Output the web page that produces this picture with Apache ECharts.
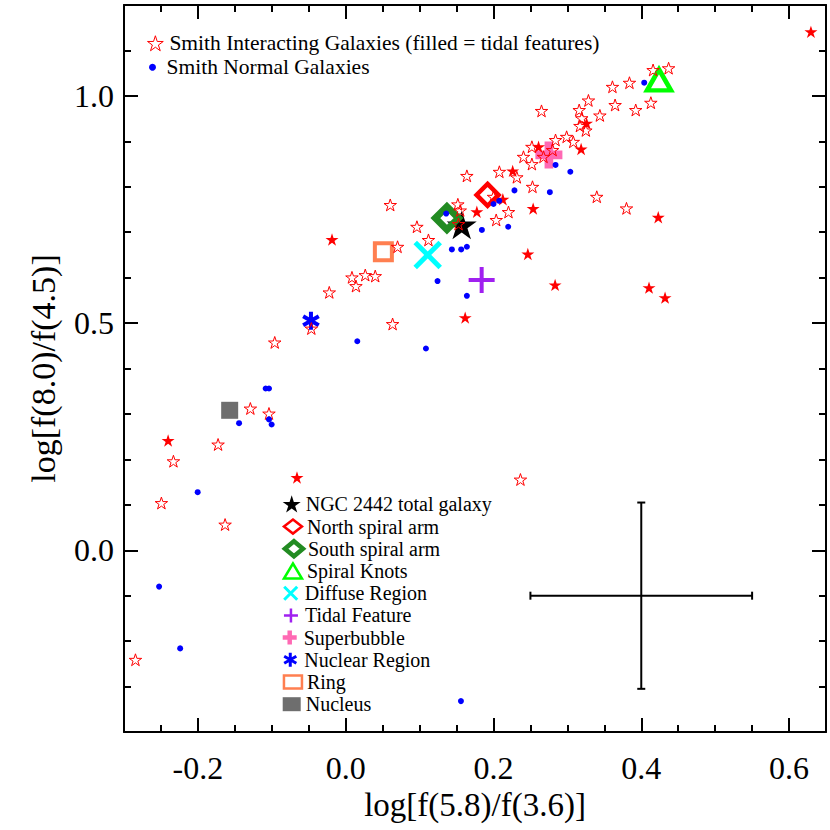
<!DOCTYPE html>
<html><head><meta charset="utf-8">
<script src="https://cdn.jsdelivr.net/npm/echarts@6/dist/echarts.min.js"></script>
<style>html,body{margin:0;padding:0;background:#fff}#c{width:830px;height:830px}</style>
</head><body><div id="c"></div>
<script>
// ---- data ----
const xTickValues = [-0.2, 0.0, 0.2, 0.4, 0.6];
const yTickValues = [0.0, 0.5, 1.0];

const smithInteracting = [
  [0.416,1.057],[0.437,1.061],[0.361,1.020],[0.384,1.029],[0.3285,0.990],[0.316,0.969],
  [0.265,0.967],[0.3646,0.980],[0.344,0.957],[0.3925,0.969],[0.413,0.985],[0.3195,0.951],
  [0.325,0.924],[0.317,0.934],[0.299,0.910],[0.284,0.903],[0.308,0.899],[0.252,0.888],
  [0.280,0.881],[0.2406,0.866],[0.252,0.850],[0.2677,0.866],[0.208,0.833],[0.2316,0.821],
  [0.164,0.824],[0.2528,0.800],[0.200,0.778],[0.3398,0.778],[0.380,0.7525],[0.2203,0.7445],
  [0.2037,0.727],[0.1518,0.7614],[0.155,0.748],[0.0964,0.712],[0.0603,0.760],[0.112,0.683],
  [0.0702,0.668],[0.1527,0.718],[0.0085,0.6006],[0.0265,0.6057],[0.040,0.6035],[0.0139,0.5815],
  [-0.0222,0.5676],[-0.0465,0.488],[0.0635,0.498],[-0.096,0.4574],[-0.129,0.312],[-0.1038,0.301],
  [-0.2331,0.196],[-0.1727,0.2328],[-0.2494,0.104],[-0.1632,0.0566],[-0.2845,-0.241],[0.2365,0.1557]
];
const smithTidal = [
  [0.6296,1.141],[0.326,0.940],[0.3186,0.883],[0.261,0.888],[0.226,0.835],[0.2127,0.7725],
  [0.423,0.733],[0.2537,0.752],[0.1775,0.745],[-0.0185,0.684],[0.1617,0.512],[-0.2403,0.2416],
  [-0.0659,0.160],[0.2465,0.652],[0.2834,0.584],[0.4105,0.578],[0.4322,0.556]
];
const smithNormal = [
  [0.404,1.029],[0.284,0.848],[0.304,0.833],[0.2284,0.792],[0.2763,0.788],[0.200,0.762],
  [0.2077,0.769],[0.2199,0.712],[0.1843,0.705],[0.136,0.741],[0.1437,0.662],[0.1563,0.662],
  [0.164,0.668],[0.1243,0.5925],[0.164,0.560],[0.0157,0.460],[0.1086,0.444],[-0.1083,0.356],
  [-0.1038,0.356],[-0.1038,0.288],[-0.1002,0.2768],[-0.1443,0.2797],[-0.2003,0.1278],
  [-0.2525,-0.080],[-0.224,-0.216],[0.156,-0.332]
];
const ngcTotal = [[0.157, 0.716]];
const northArm = [[0.192, 0.782]];
const southArm = [[0.137, 0.731]];
const spiralKnots = [[0.424, 1.035]];
const diffuseRegion = [[0.111, 0.650]];
const tidalFeature = [[0.184, 0.595]];
const superbubble = [[0.275, 0.870]];
const nuclearRegion = [[-0.047, 0.505]];
const ring = [[0.051, 0.657]];
const nucleus = [[-0.157, 0.308]];
// [x, y, xErr, yErr]
const errorBar = [[0.40, -0.10, 0.15, 0.205]];

// ---- styles ----
const FONT = "'Liberation Serif','Times New Roman',serif";
const STAR = 'path://M50,0L61.23,34.55L97.55,34.55L68.17,55.9L79.39,90.45L50,69.1L20.61,90.45L31.83,55.9L2.45,34.55L38.77,34.55Z';
const XMARK = 'path://M0,0L10,10M10,0L0,10';
const PLUS = 'path://M5,0L5,10M0,5L10,5';
const FATPLUS = 'path://M3.4,0H6.6V3.4H10V6.6H6.6V10H3.4V6.6H0V3.4H3.4Z';
const ASTER = 'path://M5,0L5,10M0.67,2.5L9.33,7.5M0.67,7.5L9.33,2.5';
const NONE = 'rgba(0,0,0,0)';

const N_HOLLOW = 'Smith Interacting Galaxies (filled = tidal features)';
const N_NORMAL = 'Smith Normal Galaxies';

const ngcDefs = [
  {name:'NGC 2442 total galaxy', data:ngcTotal, symbol:STAR, size:30, st:{color:'#000'}, lsize:21, lst:{color:'#000'}},
  {name:'North spiral arm', data:northArm, symbol:'diamond', size:22, st:{color:NONE,borderColor:'#ff0000',borderWidth:4.5}, lsize:14, lst:{color:NONE,borderColor:'#ff0000',borderWidth:2.5}},
  {name:'South spiral arm', data:southArm, symbol:'diamond', size:23, st:{color:NONE,borderColor:'#228b22',borderWidth:7}, lsize:15, lst:{color:NONE,borderColor:'#228b22',borderWidth:4.5}},
  {name:'Spiral Knots', data:spiralKnots, symbol:'triangle', size:[24,21], st:{color:NONE,borderColor:'#00ff00',borderWidth:4.5}, lsize:15, lst:{color:NONE,borderColor:'#00ff00',borderWidth:2.5}},
  {name:'Diffuse Region', data:diffuseRegion, symbol:XMARK, size:25, st:{color:NONE,borderColor:'#00ffff',borderWidth:5}, lsize:13, lst:{color:NONE,borderColor:'#00ffff',borderWidth:3}},
  {name:'Tidal Feature', data:tidalFeature, symbol:PLUS, size:26, st:{color:NONE,borderColor:'#a020f0',borderWidth:4}, lsize:14, lst:{color:NONE,borderColor:'#a020f0',borderWidth:2.5}},
  {name:'Superbubble', data:superbubble, symbol:FATPLUS, size:27, st:{color:'#ff69b4'}, lsize:14, lst:{color:'#ff69b4'}},
  {name:'Nuclear Region', data:nuclearRegion, symbol:ASTER, size:18, st:{color:NONE,borderColor:'#0000ff',borderWidth:4}, lsize:14, lst:{color:NONE,borderColor:'#0000ff',borderWidth:3}},
  {name:'Ring', data:ring, symbol:'rect', size:17, st:{color:NONE,borderColor:'#ff7f50',borderWidth:4}, lsize:13, lst:{color:NONE,borderColor:'#ff7f50',borderWidth:2.5}},
  {name:'Nucleus', data:nucleus, symbol:'rect', size:17, st:{color:'#6e6e6e'}, lsize:14, lst:{color:'#6e6e6e'}}
];

const withOpacity = s => Object.assign({opacity:1}, s);

const series = [];
ngcDefs.forEach(d => series.push({
  name:d.name, type:'scatter', data:d.data, symbol:d.symbol, symbolSize:d.size,
  symbolKeepAspect:true, itemStyle:withOpacity(d.st), z:2, silent:true
}));
series.push({name:N_HOLLOW, type:'scatter', data:smithInteracting, symbol:STAR, symbolSize:12.5, symbolKeepAspect:true,
  itemStyle:{color:NONE, borderColor:'#ff0000', borderWidth:1, opacity:1}, z:3, silent:true});
series.push({name:'Smith Interacting Galaxies (tidal)', type:'scatter', data:smithTidal, symbol:STAR, symbolSize:13, symbolKeepAspect:true,
  itemStyle:{color:'#ff0000', opacity:1}, z:3, silent:true});
series.push({name:N_NORMAL, type:'scatter', data:smithNormal, symbol:'circle', symbolSize:6,
  itemStyle:{color:'#0000ff', opacity:1}, z:3, silent:true});
series.push({
  name:'error', type:'custom', data:errorBar, silent:true, z:2,
  renderItem:(params, api) => {
    const cx = api.value(0), cy = api.value(1), ex = api.value(2), ey = api.value(3);
    const L = api.coord([cx-ex, cy]), R = api.coord([cx+ex, cy]);
    const T = api.coord([cx, cy+ey]), B = api.coord([cx, cy-ey]);
    const c = 4, style = {stroke:'#000', lineWidth:2};
    const ln = (x1,y1,x2,y2) => ({type:'line', shape:{x1,y1,x2,y2}, style});
    return {type:'group', children:[
      ln(L[0],L[1],R[0],R[1]), ln(T[0],T[1],B[0],B[1]),
      ln(L[0],L[1]-c,L[0],L[1]+c), ln(R[0],R[1]-c,R[0],R[1]+c),
      ln(T[0]-c,T[1],T[0]+c,T[1]), ln(B[0]-c,B[1],B[0]+c,B[1])
    ]};
  }
});

// legends (one block per item so each icon has its own size)
const legends = [];
function addLegend(name, icon, size, style, left, cy, fs) {
  const h = Math.max(size, fs);
  legends.push({
    data:[{name, icon, itemStyle:withOpacity(style)}], orient:'vertical', left, top: cy - h/2,
    itemWidth:18, itemHeight:size, itemGap:0, padding:0, selectedMode:false, symbolKeepAspect:true,
    textStyle:{fontFamily:FONT, fontSize:fs, lineHeight:fs, color:'#000'}
  });
}
addLegend(N_HOLLOW, STAR, 15, {color:NONE, borderColor:'#ff0000', borderWidth:1}, 147, 43, 21.5);
addLegend(N_NORMAL, 'circle', 7, {color:'#0000ff'}, 149, 67, 21.5);
ngcDefs.forEach((d, i) => addLegend(d.name, d.symbol, d.lsize, d.lst, 282.7, 504.4 + i*22.2, 20));

function majorX(pos, show) {
  return {type:'value', position:pos, min:-0.3, max:0.65, gridIndex:0,
    axisLine:{show:true, onZero:false, lineStyle:{color:'#000', width:2}},
    axisTick:{show:true, inside:true, length:14, customValues:xTickValues, lineStyle:{color:'#000', width:2}},
    axisLabel:{show:show, customValues:xTickValues, margin:20, color:'#000', fontFamily:FONT, fontSize:32, formatter:v=>v.toFixed(1)},
    splitLine:{show:false},
    name: show ? 'log[f(5.8)/f(3.6)]' : '', nameLocation:'middle', nameGap:56,
    nameTextStyle:{fontFamily:FONT, fontSize:33, color:'#000'}};
}
function minorX(pos) {
  return {type:'value', position:pos, min:-0.3, max:0.65, interval:0.05,
    axisLine:{show:false, onZero:false}, axisTick:{show:true, inside:true, length:7, lineStyle:{color:'#000', width:2}},
    axisLabel:{show:false}, splitLine:{show:false}};
}
function majorY(pos, show) {
  return {type:'value', position:pos, min:-0.4, max:1.2,
    axisLine:{show:true, onZero:false, lineStyle:{color:'#000', width:2}},
    axisTick:{show:true, inside:true, length:14, customValues:yTickValues, lineStyle:{color:'#000', width:2}},
    axisLabel:{show:show, customValues:yTickValues, margin:10, color:'#000', fontFamily:FONT, fontSize:32, formatter:v=>v.toFixed(1)},
    splitLine:{show:false},
    name: show ? 'log[f(8.0)/f(4.5)]' : '', nameLocation:'middle', nameGap:64, nameRotate:90,
    nameTextStyle:{fontFamily:FONT, fontSize:34, color:'#000'}};
}
function minorY(pos) {
  return {type:'value', position:pos, min:-0.4, max:1.2, interval:0.1,
    axisLine:{show:false, onZero:false}, axisTick:{show:true, inside:true, length:7, lineStyle:{color:'#000', width:2}},
    axisLabel:{show:false}, splitLine:{show:false}};
}

const chart = echarts.init(document.getElementById('c'), null, {renderer:'svg'});
chart.setOption({
  animation:false,
  backgroundColor:'#fff',
  grid:{left:124, right:4, top:5, bottom:98, containLabel:false},
  xAxis:[majorX('bottom', true), minorX('bottom'), majorX('top', false), minorX('top')],
  yAxis:[majorY('left', true), minorY('left'), majorY('right', false), minorY('right')],
  legend:legends,
  series:series
});
</script></body></html>
